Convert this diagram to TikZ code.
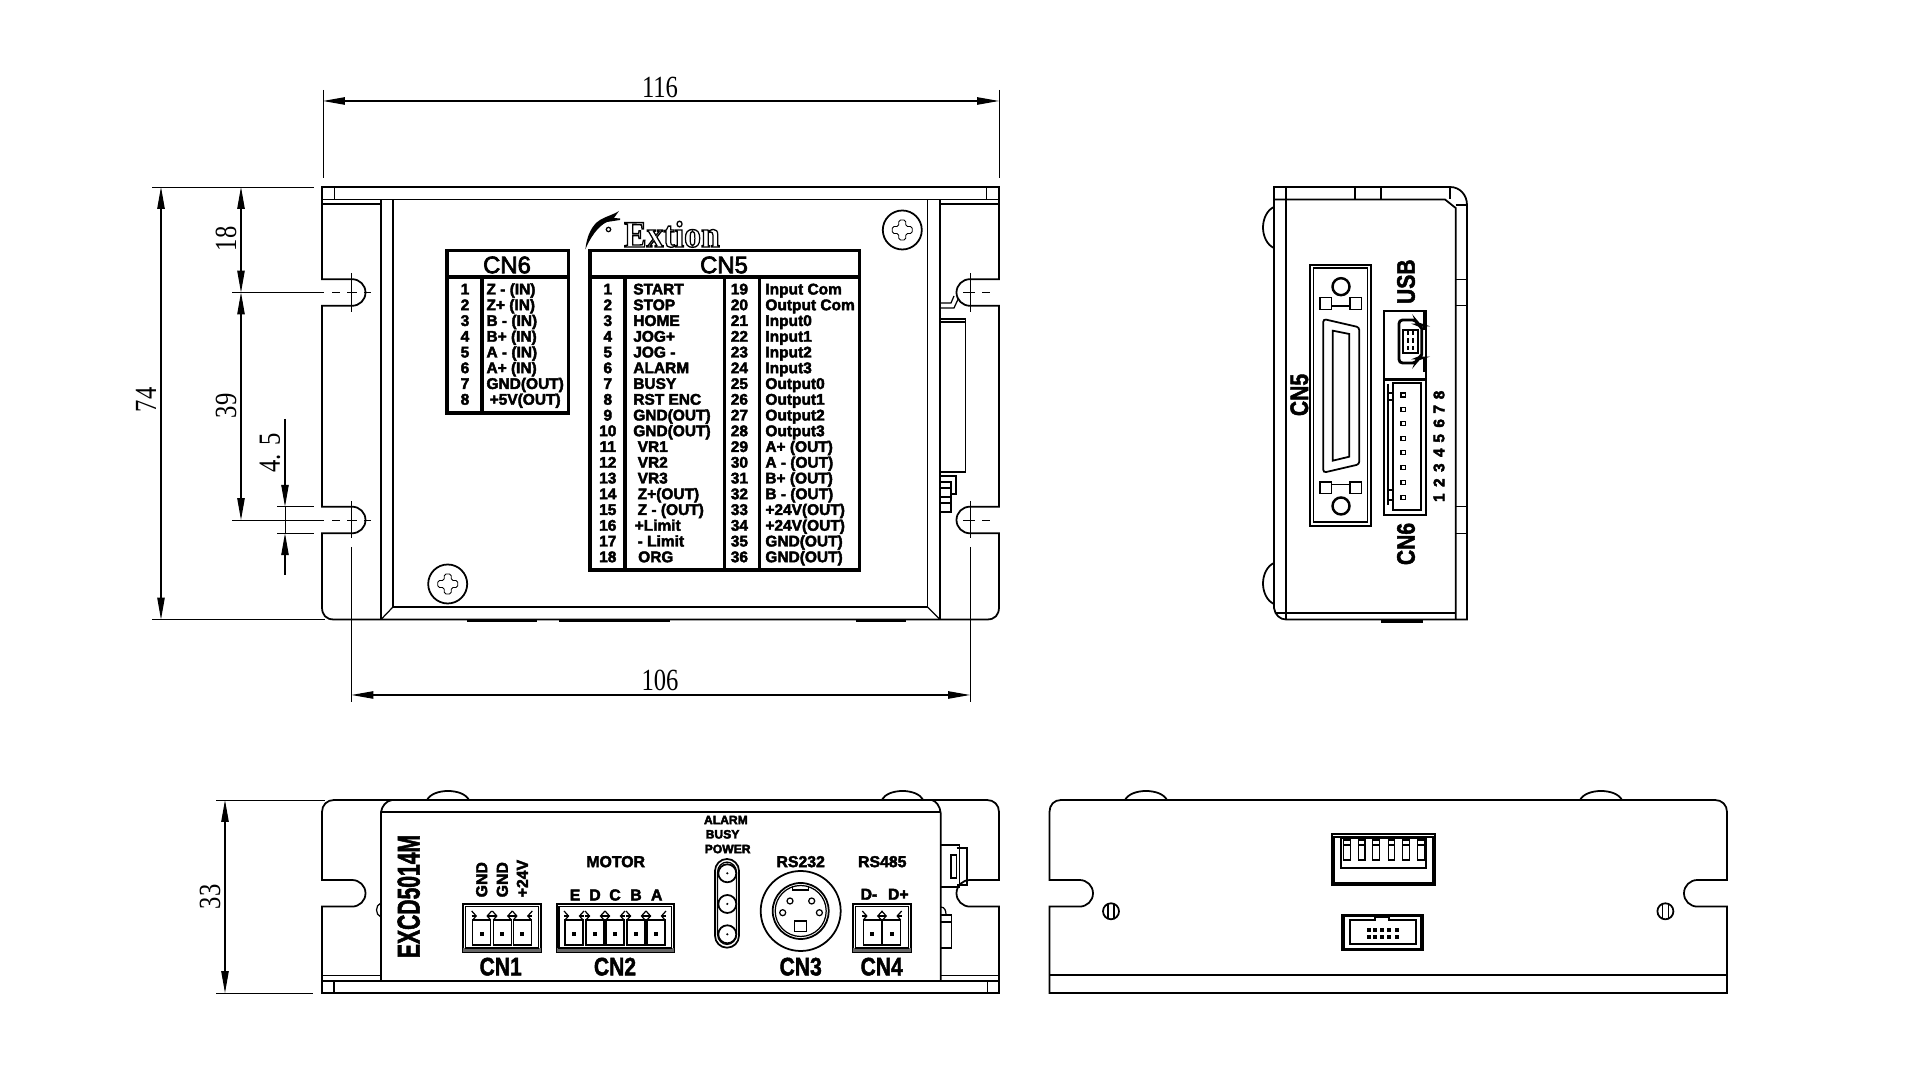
\documentclass[tikz,border=0pt]{standalone}
\usepackage{fontspec}
\setmainfont{Liberation Sans}
\newfontfamily\dimfont{Liberation Serif}
\usetikzlibrary{positioning}
\usetikzlibrary{arrows.meta}

\tikzset{
  outline/.style={line width=.5pt},
  heavy/.style={line width=1pt},
  thinline/.style={line width=.35pt},
  centerline/.style={line width=.25pt},
  dimline/.style={line width=.3pt,{Triangle[length=6.2pt,width=2.1pt]}-{Triangle[length=6.2pt,width=2.1pt]}},
  oneway/.style={line width=.3pt,-{Triangle[length=6.2pt,width=2.1pt]}},
  extline/.style={line width=.25pt},
  dimtext/.style={inner sep=0,font=\dimfont\fontsize{7}{7}\selectfont},
  heavyink/.style={execute at begin node={\special{pdf:code q 2 Tr 0.12 w}},execute at end node={\special{pdf:code Q}}},
  rowtext/.style={heavyink,inner sep=0,anchor=base west,yshift=-1.56pt,font=\bfseries\fontsize{4.4}{5}\selectfont},
  rownum/.style={heavyink,inner sep=0,anchor=base,yshift=-1.56pt,font=\bfseries\fontsize{4.4}{5}\selectfont},
  pinnum/.style={heavyink,inner sep=0,font=\bfseries\fontsize{4.4}{5}\selectfont},
  smalltext/.style={heavyink,inner sep=0,font=\bfseries\fontsize{4.5}{5}\selectfont},
  tinytext/.style={heavyink,inner sep=0,anchor=west,font=\bfseries\fontsize{3.45}{4}\selectfont},
  headtext/.style={inner sep=0,font=\fontsize{6.8}{7}\selectfont},
  cntext/.style={heavyink,inner sep=0,font=\bfseries\fontsize{6}{7}\selectfont},
}

% tall digits of the dimension labels
\newcommand{\dimnum}[1]{\scalebox{1}[1.25]{#1}}
% path piece: notch from edge x #1 to slot centre #2 at height #3, directions #4 #5
\newcommand{\slotnotch}[5]{
  -- (#1,{#3-#5*13.3}) -- (#2,{#3-#5*13.3})
  .. controls ({#2+#4*7.5},{#3-#5*13.3}) and ({#2+#4*13.5},{#3-#5*7.5}) .. ({#2+#4*13.5},#3)
  .. controls ({#2+#4*13.5},{#3+#5*7.5}) and ({#2+#4*7.5},{#3+#5*13.3}) .. (#2,{#3+#5*13.3})
  -- (#1,{#3+#5*13.3})}
% one cell of a terminal block, centred on x
\newcommand{\termcell}[1]{
  \draw[thinline] ({#1-9},920) rectangle ({#1+9},945);
  \draw[thinline] ({#1-9},920) -- ({#1-5.5},916) -- ({#1-10},911);
  \draw[thinline] ({#1+9},920) -- ({#1+5.5},916) -- ({#1+10},911);
  \draw[thinline] ({#1-10},916) -- ({#1-5.5},916);
  \draw[thinline] ({#1+5.5},916) -- ({#1+10},916);
  \fill ({#1-2},932) rectangle ({#1+2},936);
}
% cross head screw
\newcommand{\crossscrew}[2]{
  \draw[outline] (#1,#2) circle (19.5);
  \draw[centerline,rounded corners=.5pt] ({#1-3.5},{#2-10}) -- ({#1+3.5},{#2-10}) -- ({#1+3.5},{#2-3.5}) -- ({#1+10},{#2-3.5}) -- ({#1+10},{#2+3.5}) -- ({#1+3.5},{#2+3.5}) -- ({#1+3.5},{#2+10}) -- ({#1-3.5},{#2+10}) -- ({#1-3.5},{#2+3.5}) -- ({#1-10},{#2+3.5}) -- ({#1-10},{#2-3.5}) -- ({#1-3.5},{#2-3.5}) -- cycle;
}

\begin{document}
\begin{tikzpicture}[x=.01cm,y=-.01cm]
  \useasboundingbox (0,0) rectangle (1920,1080);
  \fill[white] (0,0) rectangle (1920,1080);

  % top view, plate
  \draw[outline] (322,187) \slotnotch{322}{352}{292.5}{1}{1} \slotnotch{322}{352}{520}{1}{1}
    -- (322,607) .. controls (322,615) and (326,619.5) .. (334,619.5) -- (987,619.5)
    .. controls (995,619.5) and (999,615) .. (999,607)
    \slotnotch{999}{970}{520}{-1}{-1} \slotnotch{999}{970}{292.5}{-1}{-1} -- (999,187) -- cycle;
  \draw[outline] (322,199.5) -- (999,199.5);
  \draw[thinline] (322,204) -- (381,204);
  \draw[thinline] (940,204) -- (999,204);
  \draw[thinline] (334.6,187) -- (334.6,199.5);
  \draw[thinline] (986.7,187) -- (986.7,199.5);
  \draw[outline] (381,199.5) -- (381,619.5);
  \draw[outline] (393,199.5) -- (393,607);
  \draw[outline] (927.5,199.5) -- (927.5,607);
  \draw[outline] (940,199.5) -- (940,619.5);
  \draw[outline] (393,607) -- (927.5,607);
  \draw[thinline] (381,619.5) -- (393,607);
  \draw[thinline] (940,619.5) -- (927.5,607);
  \draw[heavy] (466.5,620.5) -- (537,620.5);
  \draw[heavy] (559,620.5) -- (670,620.5);
  \draw[heavy] (856.4,620.5) -- (906.4,620.5);
  \crossscrew{902.3}{230}
  \crossscrew{447.7}{584}

  % top view, side connector
  \draw[thinline] (940,308) -- (954,308) -- (958.6,298);
  \draw[thinline] (940,303) -- (951,303) -- (954,296);
  \draw[outline] (940,319) -- (965.6,319) -- (965.6,472) -- (940,472);
  \draw[thinline] (940,322) -- (965.6,322);
  \draw[thinline] (940,476) -- (956,476) -- (956,494) -- (951,494) -- (951,482) -- (940,482);
  \draw[thinline] (940,488) -- (951,488);
  \draw[thinline] (940,497) -- (951,497);
  \draw[thinline] (940,503) -- (951,503);
  \draw[thinline] (951,494) -- (951,512) -- (940,512);

  % logo
  \fill (585.3,249.5) .. controls (587,235) and (592,225) .. (600,220) -- (606,217)
    .. controls (611,215) and (616,213) .. (619,211) -- (614,218) -- (620,218.5) -- (620,220) -- (607,222)
    .. controls (598,226) and (590,238) .. (585.3,249.5) -- cycle;
  \draw[thinline] (608.5,229.5) circle (2.2);
  \node[inner sep=0,anchor=base west,font=\fontspec{Liberation Serif}\bfseries\fontsize{9.6}{10}\selectfont] (logotext) at (623.4,247)
    {\special{pdf:code q 1 Tr 0.35 w}\scalebox{1}[1.1]{Extion}\special{pdf:code Q}};

  % table CN6
  \draw[heavy] (446.8,250.7) rectangle (568.3,413);
  \draw[heavy] (446.8,277) -- (568.3,277);
  \draw[heavy] (482,277) -- (482,413);
  \node[headtext] (cnsixhead) at (507,265) {\special{pdf:code q 2 Tr 0.2 w}CN6\special{pdf:code Q}};
  \node[rownum] (six1) at (465,289) {1};
  \node[rownum] (six2) at (465,304.75) {2};
  \node[rownum] (six3) at (465,320.5) {3};
  \node[rownum] (six4) at (465,336.25) {4};
  \node[rownum] (six5) at (465,352) {5};
  \node[rownum] (six6) at (465,367.75) {6};
  \node[rownum] (six7) at (465,383.5) {7};
  \node[rownum] (six8) at (465,399.25) {8};
  \node[rowtext] (sixa) at (485.8,289) {Z - (IN)};
  \node[rowtext] (sixb) at (485.8,304.75) {Z+ (IN)};
  \node[rowtext] (sixc) at (485.8,320.5) {B - (IN)};
  \node[rowtext] (sixd) at (485.8,336.25) {B+ (IN)};
  \node[rowtext] (sixe) at (485.8,352) {A - (IN)};
  \node[rowtext] (sixf) at (485.8,367.75) {A+ (IN)};
  \node[rowtext] (sixg) at (485.8,383.5) {GND(OUT)};
  \node[rowtext] (sixh) at (489,399.25) {+5V(OUT)};

  % table CN5
  \draw[heavy] (590,250.7) rectangle (859.6,570);
  \draw[heavy] (590,277) -- (859.6,277);
  \draw[heavy] (624.8,277) -- (624.8,570);
  \draw[heavy] (724.3,277) -- (724.3,570);
  \draw[heavy] (759.6,277) -- (759.6,570);
  \node[headtext] (cnfivehead) at (724,265) {\special{pdf:code q 2 Tr 0.2 w}CN5\special{pdf:code Q}};
  \node[rownum] (num1) at (607.8,289) {1};
  \node[rownum] (num2) at (607.8,304.75) {2};
  \node[rownum] (num3) at (607.8,320.5) {3};
  \node[rownum] (num4) at (607.8,336.25) {4};
  \node[rownum] (num5) at (607.8,352) {5};
  \node[rownum] (num6) at (607.8,367.75) {6};
  \node[rownum] (num7) at (607.8,383.5) {7};
  \node[rownum] (num8) at (607.8,399.25) {8};
  \node[rownum] (num9) at (607.8,415) {9};
  \node[rownum] (num10) at (607.8,430.75) {10};
  \node[rownum] (num11) at (607.8,446.5) {11};
  \node[rownum] (num12) at (607.8,462.25) {12};
  \node[rownum] (num13) at (607.8,478) {13};
  \node[rownum] (num14) at (607.8,493.75) {14};
  \node[rownum] (num15) at (607.8,509.5) {15};
  \node[rownum] (num16) at (607.8,525.25) {16};
  \node[rownum] (num17) at (607.8,541) {17};
  \node[rownum] (num18) at (607.8,556.75) {18};
  \node[rowtext] (sig1) at (632.6,289) {START};
  \node[rowtext] (sig2) at (632.6,304.75) {STOP};
  \node[rowtext] (sig3) at (632.6,320.5) {HOME};
  \node[rowtext] (sig4) at (632.6,336.25) {JOG+};
  \node[rowtext] (sig5) at (632.6,352) {JOG -};
  \node[rowtext] (sig6) at (632.6,367.75) {ALARM};
  \node[rowtext] (sig7) at (632.6,383.5) {BUSY};
  \node[rowtext] (sig8) at (632.6,399.25) {RST ENC};
  \node[rowtext] (sig9) at (632.6,415) {GND(OUT)};
  \node[rowtext] (sig10) at (632.6,430.75) {GND(OUT)};
  \node[rowtext] (sig11) at (637,446.5) {VR1};
  \node[rowtext] (sig12) at (637,462.25) {VR2};
  \node[rowtext] (sig13) at (637,478) {VR3};
  \node[rowtext] (sig14) at (637,493.75) {Z+(OUT)};
  \node[rowtext] (sig15) at (637,509.5) {Z - (OUT)};
  \node[rowtext] (sig16) at (634,525.25) {+Limit};
  \node[rowtext] (sig17) at (637,541) {- Limit};
  \node[rowtext] (sig18) at (637.5,556.75) {ORG};
  \node[rownum] (num19) at (739.4,289) {19};
  \node[rownum] (num20) at (739.4,304.75) {20};
  \node[rownum] (num21) at (739.4,320.5) {21};
  \node[rownum] (num22) at (739.4,336.25) {22};
  \node[rownum] (num23) at (739.4,352) {23};
  \node[rownum] (num24) at (739.4,367.75) {24};
  \node[rownum] (num25) at (739.4,383.5) {25};
  \node[rownum] (num26) at (739.4,399.25) {26};
  \node[rownum] (num27) at (739.4,415) {27};
  \node[rownum] (num28) at (739.4,430.75) {28};
  \node[rownum] (num29) at (739.4,446.5) {29};
  \node[rownum] (num30) at (739.4,462.25) {30};
  \node[rownum] (num31) at (739.4,478) {31};
  \node[rownum] (num32) at (739.4,493.75) {32};
  \node[rownum] (num33) at (739.4,509.5) {33};
  \node[rownum] (num34) at (739.4,525.25) {34};
  \node[rownum] (num35) at (739.4,541) {35};
  \node[rownum] (num36) at (739.4,556.75) {36};
  \node[rowtext] (sig19) at (764.7,289) {Input Com};
  \node[rowtext] (sig20) at (764.7,304.75) {Output Com};
  \node[rowtext] (sig21) at (764.7,320.5) {Input0};
  \node[rowtext] (sig22) at (764.7,336.25) {Input1};
  \node[rowtext] (sig23) at (764.7,352) {Input2};
  \node[rowtext] (sig24) at (764.7,367.75) {Input3};
  \node[rowtext] (sig25) at (764.7,383.5) {Output0};
  \node[rowtext] (sig26) at (764.7,399.25) {Output1};
  \node[rowtext] (sig27) at (764.7,415) {Output2};
  \node[rowtext] (sig28) at (764.7,430.75) {Output3};
  \node[rowtext] (sig29) at (764.7,446.5) {A+ (OUT)};
  \node[rowtext] (sig30) at (764.7,462.25) {A - (OUT)};
  \node[rowtext] (sig31) at (764.7,478) {B+ (OUT)};
  \node[rowtext] (sig32) at (764.7,493.75) {B - (OUT)};
  \node[rowtext] (sig33) at (764.7,509.5) {+24V(OUT)};
  \node[rowtext] (sig34) at (764.7,525.25) {+24V(OUT)};
  \node[rowtext] (sig35) at (764.7,541) {GND(OUT)};
  \node[rowtext] (sig36) at (764.7,556.75) {GND(OUT)};

  % dimensions of the top view
  \draw[extline] (323,90) -- (323,178);
  \draw[extline] (999,90) -- (999,178);
  \draw[dimline] (323,101) -- (999,101);
  \node[dimtext] (dimwidth) at (660,87) {\dimnum{116}};
  \draw[extline] (152,187) -- (314,187);
  \draw[extline] (152,619.5) -- (325,619.5);
  \draw[dimline] (161,187) -- (161,619.5);
  \node[dimtext,rotate=90] (dimheight) at (146,400) {\dimnum{74}};
  \draw[extline] (232,292.5) -- (324,292.5);
  \draw[extline] (232,520) -- (324,520);
  \draw[dimline] (241,187) -- (241,292.5);
  \draw[dimline] (241,292.5) -- (241,520);
  \node[dimtext,rotate=90] (dimupper) at (226,239) {\dimnum{18}};
  \node[dimtext,rotate=90] (dimpitch) at (226,406) {\dimnum{39}};
  \draw[extline] (277,506.7) -- (313.7,506.7);
  \draw[extline] (277,533.3) -- (313.7,533.3);
  \draw[oneway] (285,419) -- (285,506.7);
  \draw[oneway] (285,575) -- (285,533.3);
  \draw[extline] (285,506.7) -- (285,533.3);
  \node[dimtext,rotate=90] (dimslot) at (270,453) {\dimnum{4. 5}};
  \draw[extline] (351.5,547) -- (351.5,702);
  \draw[extline] (970,547) -- (970,702);
  \draw[dimline] (351.5,695) -- (970,695);
  \node[dimtext] (dimholes) at (660,680) {\dimnum{106}};

  % centre marks
  \draw[centerline] (332,292.5) -- (340,292.5);
  \draw[centerline] (347,292.5) -- (357,292.5);
  \draw[centerline] (364,292.5) -- (371,292.5);
  \draw[centerline] (332,520) -- (340,520);
  \draw[centerline] (347,520) -- (357,520);
  \draw[centerline] (364,520) -- (371,520);
  \draw[centerline] (351.5,273) -- (351.5,312);
  \draw[centerline] (351.5,501) -- (351.5,538);
  \draw[centerline] (963,292.5) -- (974.5,292.5);
  \draw[centerline] (982,292.5) -- (989.5,292.5);
  \draw[centerline] (963,520) -- (974.5,520);
  \draw[centerline] (982,520) -- (989.5,520);
  \draw[centerline] (970,273) -- (970,312);
  \draw[centerline] (970,501) -- (970,538);

  % side view
  \draw[outline] (1286,187) -- (1274,187) -- (1274,608) .. controls (1275,615) and (1280,619.5) .. (1286,619.5) -- (1467,619.5)
    -- (1467,205) .. controls (1467,195) and (1460,187) .. (1450,187) -- cycle;
  \draw[outline] (1274,199.5) -- (1445,199.5) -- (1455.7,208) -- (1455.7,619.5);
  \draw[outline] (1455.7,205) -- (1467,205);
  \draw[outline] (1286,187) -- (1286,619.5);
  \draw[outline] (1276,612.7) -- (1455.7,612.7);
  \draw[thinline] (1355,187) -- (1355,199.5);
  \draw[thinline] (1381,187) -- (1381,199.5);
  \draw[thinline] (1450,187) -- (1450,199.5);
  \draw[thinline] (1455.7,279.3) -- (1467,279.3);
  \draw[thinline] (1455.7,305.7) -- (1467,305.7);
  \draw[thinline] (1455.7,506.7) -- (1467,506.7);
  \draw[thinline] (1455.7,533.3) -- (1467,533.3);
  \draw[outline] (1274,207) .. controls (1267,210) and (1263,219) .. (1263,227.5) .. controls (1263,236) and (1267,245) .. (1274,248);
  \draw[outline] (1274,563) .. controls (1267,566) and (1263,575) .. (1263,583.5) .. controls (1263,592) and (1267,601) .. (1274,604);
  \draw[heavy] (1381,621) -- (1423,621);
  % side view, CN5 socket
  \draw[outline] (1310,265) rectangle (1371,526);
  \draw[thinline] (1313.5,268) rectangle (1367.3,522);
  \draw[line width=.7pt] (1341,286.7) circle (8.5);
  \draw[line width=.7pt] (1341,506) circle (8.5);
  \draw[thinline] (1320,297.7) rectangle (1331.7,309.3);
  \draw[thinline] (1350,297.7) rectangle (1361.7,309.3);
  \draw[thinline] (1331.7,306) -- (1350,306);
  \draw[thinline] (1320,482) rectangle (1331.7,493.5);
  \draw[thinline] (1350,482) rectangle (1361.7,493.5);
  \draw[thinline] (1331.7,484.5) -- (1350,484.5);
  \draw[outline,rounded corners=.8pt] (1323.3,319) -- (1359.3,327.3) -- (1359.3,464.3) -- (1323.3,472.7) -- cycle;
  \draw[outline] (1332.7,330.7) -- (1349.3,334) -- (1349.3,456.7) -- (1332.7,460.7) -- cycle;
  \node[cntext,rotate=90] (sidecnfive) at (1299.3,395) {\scalebox{1}[1.2]{CN5}};
  % side view, USB
  \draw[outline] (1384.3,310.7) rectangle (1426,379.3);
  \draw[heavy] (1424.5,312) -- (1424.5,330);
  \draw[heavy] (1424.5,358) -- (1424.5,372);
  \draw[line width=.8pt,rounded corners=1pt] (1399,320) -- (1416,320) -- (1418,325) -- (1421.7,325) -- (1421.7,358) -- (1418,358) -- (1416,363) -- (1399,363) -- cycle;
  \draw[thinline] (1403,330) -- (1403,353) -- (1418,353) -- (1418,330) -- cycle;
  \draw[line width=.7pt,dash pattern=on 1.2pt off .9pt] (1408,331) -- (1408,352);
  \draw[line width=.7pt,dash pattern=on 1.2pt off .9pt] (1413,331) -- (1413,352);
  \node[cntext,rotate=90] (sideusb) at (1406,281.7) {\scalebox{1}[1.2]{USB}};
  % side view, CN6 header
  \draw[outline] (1384.3,380) rectangle (1426,515);
  \draw[outline] (1393.3,383) rectangle (1421,510);
  \draw[thinline] (1388,384) -- (1388,505);
  \draw[thinline] (1388,393) -- (1393.3,393);
  \draw[thinline] (1388,400) -- (1393.3,400);
  \draw[thinline] (1388,490) -- (1393.3,490);
  \draw[thinline] (1388,500) -- (1393.3,500);
  \foreach \py in {395,409.3,423.3,438.3,452.7,467.7,482.7,497.7}
    \draw[thinline] (1401,{\py-2}) rectangle (1405.6,{\py+2});
  \node[pinnum,rotate=90] (pin1) at (1439,497.7) {1};
  \node[pinnum,rotate=90] (pin2) at (1439,482.7) {2};
  \node[pinnum,rotate=90] (pin3) at (1439,467.7) {3};
  \node[pinnum,rotate=90] (pin4) at (1439,452.7) {4};
  \node[pinnum,rotate=90] (pin5) at (1439,438.3) {5};
  \node[pinnum,rotate=90] (pin6) at (1439,423.3) {6};
  \node[pinnum,rotate=90] (pin7) at (1439,409.3) {7};
  \node[pinnum,rotate=90] (pin8) at (1439,395) {8};
  \node[cntext,rotate=90] (sidecnsix) at (1406,544) {\scalebox{1}[1.2]{CN6}};

  % front view, plate
  \draw[outline] (334,800) .. controls (327,800) and (322,805) .. (322,812)
    \slotnotch{322}{352}{893.3}{1}{1} -- (322,993) -- (999,993)
    \slotnotch{999}{970}{893.3}{-1}{-1} -- (999,812) .. controls (999,805) and (994,800) .. (987,800) -- cycle;
  \draw[outline] (322,980.7) -- (999,980.7);
  \draw[thinline] (322,975.7) -- (381,975.7);
  \draw[thinline] (940.7,975.7) -- (999,975.7);
  \draw[thinline] (334,980.7) -- (334,993);
  \draw[thinline] (987.7,980.7) -- (987.7,993);
  % front view, body
  \draw[fill=white,draw=none] (381,802) rectangle (940.7,980);
  \draw[outline] (381,980.7) -- (381,812) .. controls (382,806) and (386,801) .. (392,800);
  \draw[outline] (931.7,800) .. controls (936,801) and (940,806) .. (940.7,813) -- (940.7,980.7);
  \draw[outline] (381,812) -- (940.7,812);
  \draw[outline] (392,800) -- (931.7,800);
  \draw[outline] (427,800) .. controls (433,788) and (463,788) .. (469,800);
  \draw[outline] (881.7,800) .. controls (888,788) and (917,788) .. (923.3,800);
  \draw[thinline] (381,903) .. controls (375,905) and (375,915) .. (381,917);
  % front view, parts at the right
  \draw[thinline] (940.7,845) -- (959.3,845) -- (959.3,887) -- (940.7,887);
  \draw[outline] (956.7,848) -- (966.7,848) -- (966.7,885) -- (956.7,885);
  \draw[thinline] (951,855) -- (956.7,855) -- (956.7,878) -- (951,878) -- cycle;
  \draw[thinline] (940.7,915) -- (951.7,915) -- (951.7,948) -- (940.7,948);
  \draw[thinline] (940.7,922) -- (951.7,922);
  \draw[thinline] (940.7,907) .. controls (945,907) and (946,911) .. (946,915);
  \node[cntext,rotate=90] (model) at (408.7,896.5) {\scalebox{1}[1.5]{EXCD5014M}};
  % front view, CN1
  \draw[outline] (463.3,904) rectangle (540.7,952);
  \fill[black!60] (463.3,948) rectangle (540.7,952);
  \draw[thinline] (465.5,906.5) rectangle (538.5,948);
  \termcell{481.7}
  \termcell{502.3}
  \termcell{522.3}
  \node[smalltext,rotate=90,anchor=west] (cnonegnda) at (481.7,898) {GND};
  \node[smalltext,rotate=90,anchor=west] (cnonegndb) at (502.3,898) {GND};
  \node[smalltext,rotate=90,anchor=west] (cnonepower) at (522.3,898) {+24V};
  \node[cntext] (cnone) at (500.7,966.7) {\scalebox{1}[1.2]{CN1}};
  % front view, CN2
  \draw[outline] (556.7,904) rectangle (674,952);
  \fill[black!60] (556.7,948) rectangle (674,952);
  \draw[thinline] (559,906.5) rectangle (671.5,948);
  \termcell{574}
  \termcell{595}
  \termcell{615}
  \termcell{636}
  \termcell{656}
  \node[smalltext] (phaseE) at (575,895) {E};
  \node[smalltext] (phaseD) at (595,895) {D};
  \node[smalltext] (phaseC) at (615,895) {C};
  \node[smalltext] (phaseB) at (636,895) {B};
  \node[smalltext] (phaseA) at (656.7,895) {A};
  \node[smalltext] (motor) at (615.7,861.7) {MOTOR};
  \node[cntext] (cntwo) at (615,966.7) {\scalebox{1}[1.2]{CN2}};
  % front view, LEDs
  \node[tinytext] (ledalarm) at (703.3,820) {ALARM};
  \node[tinytext] (ledbusy) at (705,834.3) {BUSY};
  \node[tinytext] (ledpower) at (704,849) {POWER};
  \draw[outline,rounded corners=3.4pt] (715,859) rectangle (739,947.7);
  \draw[thinline,rounded corners=2.8pt] (717.6,862) rectangle (736.4,944.5);
  \draw[outline] (727.3,873.3) circle (9);
  \draw[outline] (727.3,904) circle (9);
  \draw[outline] (727.3,934.3) circle (9);
  \fill (727.3,873.3) circle (1.2);
  \fill (727.3,904) circle (1.2);
  \fill (727.3,934.3) circle (1.2);
  % front view, CN3
  \node[smalltext] (rstwo) at (800.7,861.7) {RS232};
  \draw[outline] (800.7,911) circle (40);
  \draw[outline] (800.7,911) circle (28);
  \draw[thinline] (800.7,911) circle (25.5);
  \draw[thinline] (792.8,886) -- (792.8,890) -- (808.8,890) -- (808.8,886);
  \draw[thinline] (794.3,921) rectangle (806.7,931.7);
  \draw[thinline] (790,901) circle (3);
  \draw[thinline] (811.7,901) circle (3);
  \draw[thinline] (782.7,912.7) circle (3);
  \draw[thinline] (819.4,912.7) circle (3);
  \node[cntext] (cnthree) at (800.7,966.7) {\scalebox{1}[1.2]{CN3}};
  % front view, CN4
  \node[smalltext] (rsfour) at (882.3,861.7) {RS485};
  \node[smalltext] (dminus) at (869,894.3) {D-};
  \node[smalltext] (dplus) at (898.3,894.3) {D+};
  \draw[outline] (853.3,904) rectangle (910.7,952);
  \fill[black!60] (853.3,948) rectangle (910.7,952);
  \draw[thinline] (855.5,906.5) rectangle (908.5,948);
  \termcell{872.3}
  \termcell{891.7}
  \node[cntext] (cnfour) at (881.7,966.7) {\scalebox{1}[1.2]{CN4}};
  % front view, dimension
  \draw[extline] (216,800) -- (325,800);
  \draw[extline] (216,993) -- (313,993);
  \draw[dimline] (225,800) -- (225,993);
  \node[dimtext,rotate=90] (dimdepth) at (210,897) {\dimnum{33}};

  % back view
  \draw[outline] (1061,800) .. controls (1054,800) and (1049.5,805) .. (1049.5,812)
    \slotnotch{1049.5}{1079.5}{893.3}{1}{1} -- (1049.5,993) -- (1727,993)
    \slotnotch{1727}{1697.5}{893.3}{-1}{-1} -- (1727,812) .. controls (1727,805) and (1722,800) .. (1715,800) -- cycle;
  \draw[outline] (1049.5,975) -- (1727,975);
  \draw[outline] (1125,800) .. controls (1131,788) and (1161,788) .. (1167,800);
  \draw[outline] (1580,800) .. controls (1586,788) and (1616,788) .. (1622,800);
  \draw[outline] (1111,911.3) circle (8);
  \draw[thinline] (1108,903.8) -- (1108,918.8);
  \draw[thinline] (1114,903.8) -- (1114,918.8);
  \draw[outline] (1665.4,911.3) circle (8);
  \draw[thinline] (1662.4,903.8) -- (1662.4,918.8);
  \draw[thinline] (1668.4,903.8) -- (1668.4,918.8);
  % back view, DIP switch
  \draw[outline] (1332,834) rectangle (1435,885);
  \draw[thinline] (1334,837) rectangle (1433,883);
  \draw[outline] (1341,838) rectangle (1426,868);
  \foreach \sx in {1347,1361.6,1376,1391.5,1406,1421} {
    \draw[thinline] ({\sx-3.3},840) rectangle ({\sx+3.3},860);
    \draw[thinline] ({\sx-3.3},845) -- ({\sx+3.3},845);
  }
  % back view, socket
  \draw[heavy] (1343,915.7) rectangle (1422,949.3);
  \draw[outline] (1350,920) -- (1375,920) -- (1375,917) -- (1389,917) -- (1389,920) -- (1416,920) -- (1416,944) -- (1350,944) -- cycle;
  \foreach \sx in {1368.5,1375.4,1382.3,1389.2,1396.6} {
    \fill ({\sx-2},928) rectangle ({\sx+2},932);
    \fill ({\sx-2},934.7) rectangle ({\sx+2},938.7);
  }
\end{tikzpicture}
\end{document}
